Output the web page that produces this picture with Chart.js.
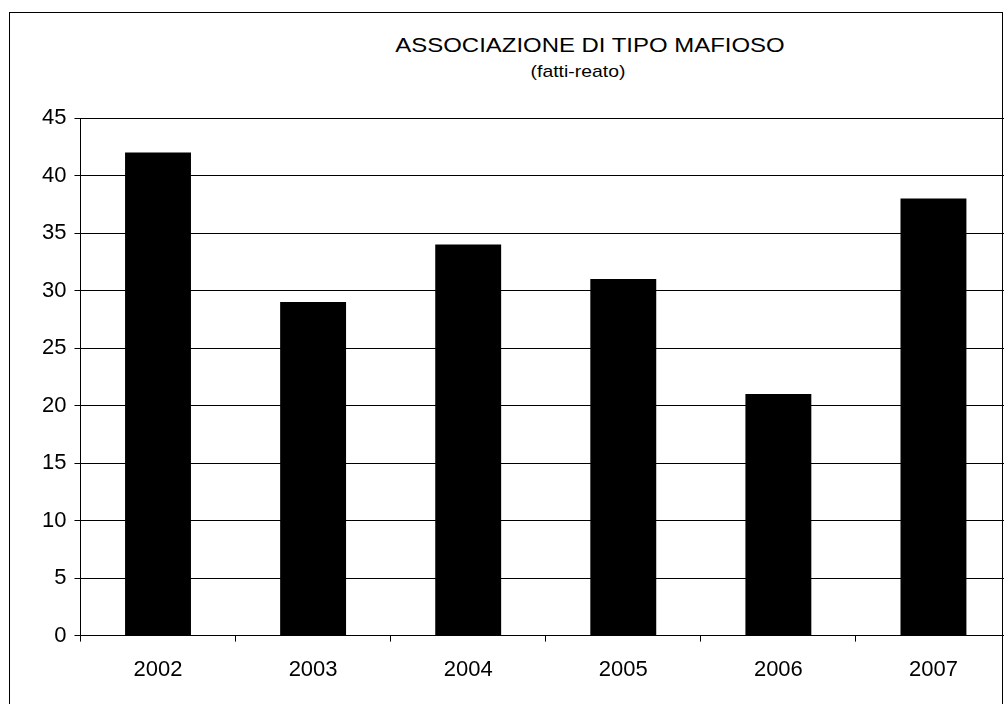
<!DOCTYPE html>
<html>
<head>
<meta charset="utf-8">
<script src="https://cdn.jsdelivr.net/npm/chart.js@4"></script>
<style>
    body { margin: 0; overflow: hidden; background: #fff; font-family: "Liberation Sans", Arial, sans-serif; color: #000; }
    #cornice { position: absolute; left: 9px; top: 12px; width: 992px; height: 760px; border: 1px solid #000; }
    .titolo { position: absolute; width: 600px; text-align: center; white-space: nowrap; transform: scaleX(1.14); }
    #riga1 { left: 290px; top: 33px; font-size: 21px; line-height: 24px; }
    #riga2 { left: 278px; top: 60px; font-size: 17px; line-height: 24px; }
    #box { position: absolute; left: 0; top: 0; width: 1011px; height: 704px; }
</style>
</head>
<body>
<div id="cornice"></div>
<div class="titolo" id="riga1">ASSOCIAZIONE DI TIPO MAFIOSO</div>
<div class="titolo" id="riga2">(fatti-reato)</div>
<div id="box"><canvas id="grafico"></canvas></div>
<script>
var anni = ['2002', '2003', '2004', '2005', '2006', '2007'];
var fattiReato = [42, 29, 34, 31, 21, 38];
var tickY = [0, 5, 10, 15, 20, 25, 30, 35, 40, 45];

var ctx = document.getElementById('grafico');
var chart = new Chart(ctx, {
    type: 'bar',
    data: {
        labels: anni,
        datasets: [{
            label: 'fatti-reato',
            data: fattiReato,
            backgroundColor: '#000',
            borderWidth: 0,
            barPercentage: 0.425,
            categoryPercentage: 1
        }]
    },
    options: {
        responsive: true,
        maintainAspectRatio: false,
        animation: false,
        layout: { padding: { top: 118, left: 34, right: 0, bottom: 6 } },
        plugins: {
            legend: { display: false },
            tooltip: { enabled: false }
        },
        scales: {
            x: {
                offset: true,
                grid: { offset: true, drawOnChartArea: false, drawTicks: true, tickLength: 6, color: '#000' },
                border: { color: '#000', width: 1 },
                ticks: { color: '#000', font: { family: 'Liberation Sans', size: 22 }, padding: 15, maxRotation: 0 }
            },
            y: {
                min: 0,
                max: 45,
                afterBuildTicks: function (scale) {
                    scale.ticks = tickY.map(function (v) { return { value: v }; });
                },
                grid: { color: '#000', lineWidth: 1, tickLength: 6 },
                border: { color: '#000', width: 1 },
                ticks: { color: '#000', font: { family: 'Liberation Sans', size: 22 }, padding: 8 }
            }
        }
    }
});
</script>
</body>
</html>
